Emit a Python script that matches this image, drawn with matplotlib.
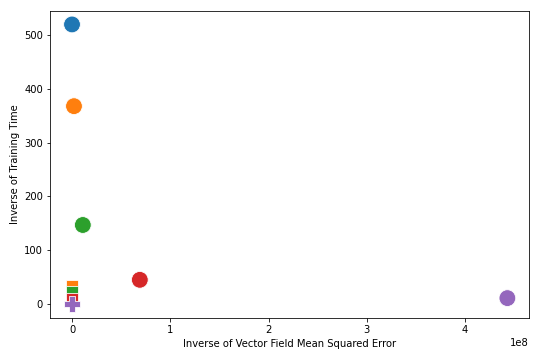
import matplotlib
matplotlib.use("Agg")
import matplotlib.pyplot as plt

colors = ["#1f77b4", "#ff7f0e", "#2ca02c", "#d62728", "#9467bd"]
circle_x = [0.0, 0.02e8, 0.11e8, 0.69e8, 4.43e8]
circle_y = [520, 368, 147, 45, 11]
square_x = [0.0, 0.0, 0.0]
square_y = [34, 22, 9]
square_c = ["#ff7f0e", "#2ca02c", "#d62728"]
plus_x = [0.0]
plus_y = [0]

fig = plt.figure(figsize=(7.5, 5), dpi=72)
ax = fig.add_axes([50/540, 42/360, 479/540, 307/360])
ax.scatter(circle_x, circle_y, c=colors, s=280, edgecolors="white", linewidths=0.8, zorder=3)
ax.scatter(square_x, square_y, c=square_c, marker="s", s=130, edgecolors="white", linewidths=0.8, zorder=3)
ax.scatter(plus_x, plus_y, c=[colors[4]], marker="P", s=280, edgecolors="white", linewidths=0.8, zorder=4)

ax.set_xlim(-0.224e8, 4.65e8)
ax.set_ylim(-26, 545)
ax.set_xlabel("Inverse of Vector Field Mean Squared Error")
ax.set_ylabel("Inverse of Training Time")
fig.savefig("out.png", dpi=72)
